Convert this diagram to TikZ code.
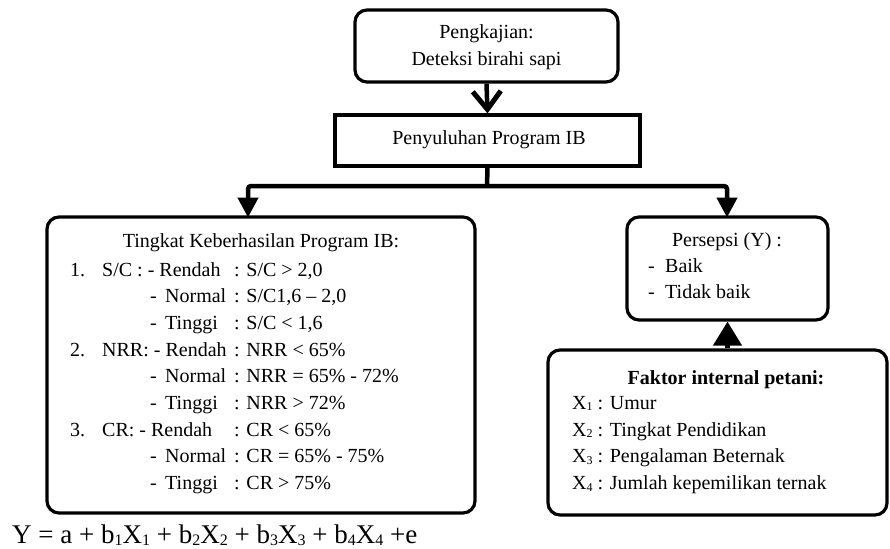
\documentclass[tikz,border=0pt]{standalone}
\usepackage{fontspec}
\setmainfont{Liberation Serif}
\usetikzlibrary{arrows.meta}
\newcommand\lsub[1]{\raisebox{-0.08em}{\fontsize{16}{16}\selectfont #1}}
\newcommand\xsub[1]{\raisebox{-0.08em}{\fontsize{12}{12}\selectfont #1}}
\tikzset{
  rbox/.style={draw, line width=3.2pt, rounded corners=12pt, inner sep=0pt},
  sbox/.style={draw, line width=3.2pt, inner sep=0pt},
  txt/.style={inner sep=0pt, font=\fontsize{20}{26.7}\selectfont},
  conn/.style={line width=4.5pt},
  tri/.style={-{Triangle[length=20pt,width=20pt]}},
  barb/.style={-{Straight Barb[length=18pt,width=28pt,line width=5pt]}},
  upar/.style={-{Triangle[length=24pt,width=28pt]}}
}
\begin{document}
\begin{tikzpicture}[x=1pt,y=-1pt]
\useasboundingbox (0,0) rectangle (890,548);
% boxes
\node[rbox, minimum width=263pt, minimum height=72pt] (top) at (486.5,46) {};
\node[sbox, minimum width=305pt, minimum height=51pt] (pen) at (487.5,140.5) {};
\node[rbox, minimum width=428pt, minimum height=296pt] (left) at (261,365) {};
\node[rbox, minimum width=201pt, minimum height=103pt] (pers) at (727.5,268.5) {};
\node[rbox, minimum width=339pt, minimum height=165pt] (fak) at (717.5,432.5) {};
% texts
\node[txt, align=center] (toptxt) at (486.5,47) {Pengkajian:\\Deteksi birahi sapi};
\node[txt] (pentxt) at (489,140) {Penyuluhan Program IB};
\node[txt] (ltitle) at (261,243) {Tingkat Keberhasilan Program IB:};
\node[txt, anchor=north west, align=left] (lrows) at (70,262) {%
\makebox[32pt][l]{1.}\makebox[132pt][l]{S/C : - Rendah}: S/C > 2,0\\
\hspace*{80pt}\makebox[84pt][l]{\makebox[15pt][l]{-}Normal}: S/C1,6 – 2,0\\
\hspace*{80pt}\makebox[84pt][l]{\makebox[15pt][l]{-}Tinggi}: S/C < 1,6\\
\makebox[32pt][l]{2.}\makebox[132pt][l]{NRR: - Rendah}: NRR < 65\%\\
\hspace*{80pt}\makebox[84pt][l]{\makebox[15pt][l]{-}Normal}: NRR = 65\% - 72\%\\
\hspace*{80pt}\makebox[84pt][l]{\makebox[15pt][l]{-}Tinggi}: NRR > 72\%\\
\makebox[32pt][l]{3.}\makebox[132pt][l]{CR: - Rendah}: CR < 65\%\\
\hspace*{80pt}\makebox[84pt][l]{\makebox[15pt][l]{-}Normal}: CR = 65\% - 75\%\\
\hspace*{80pt}\makebox[84pt][l]{\makebox[15pt][l]{-}Tinggi}: CR > 75\%};
\node[txt] (perstitle) at (727,242) {Persepsi (Y) :};
\node[txt, anchor=north west, align=left] (persrows) at (648,258) {%
\makebox[17pt][l]{-}Baik\\\makebox[17pt][l]{-}Tidak baik};
\node[txt, font=\fontsize{20}{26.7}\selectfont\bfseries] (faktitle) at (726,380) {Faktor internal petani:};
\node[txt, anchor=north west, align=left] (fakrows) at (572,396) {%
X\xsub{1} : Umur\\
X\xsub{2} : Tingkat Pendidikan\\
X\xsub{3} : Pengalaman Beternak\\
X\xsub{4} : Jumlah kepemilikan ternak};
\node[inner sep=0pt, anchor=base west, font=\fontsize{27}{30}\selectfont] (eq) at (12,543) {Y = a + b\lsub{1}X\lsub{1} + b\lsub{2}X\lsub{2} + b\lsub{3}X\lsub{3} + b\lsub{4}X\lsub{4} +e};
% connectors
\draw[conn, barb] (top.south) -- (pen.north);
\coordinate (br) at (487,186);
\draw[conn] (pen.south) -- (br);
\draw[conn, tri, rounded corners=3pt] (br) -| (248,217.5) coordinate (lt);
\draw[conn, tri, rounded corners=3pt] (br) -| (727,217.5) coordinate (rt);
\draw[conn, upar] (fak.north -| pers.south) -- (pers.south);
\end{tikzpicture}
\end{document}
